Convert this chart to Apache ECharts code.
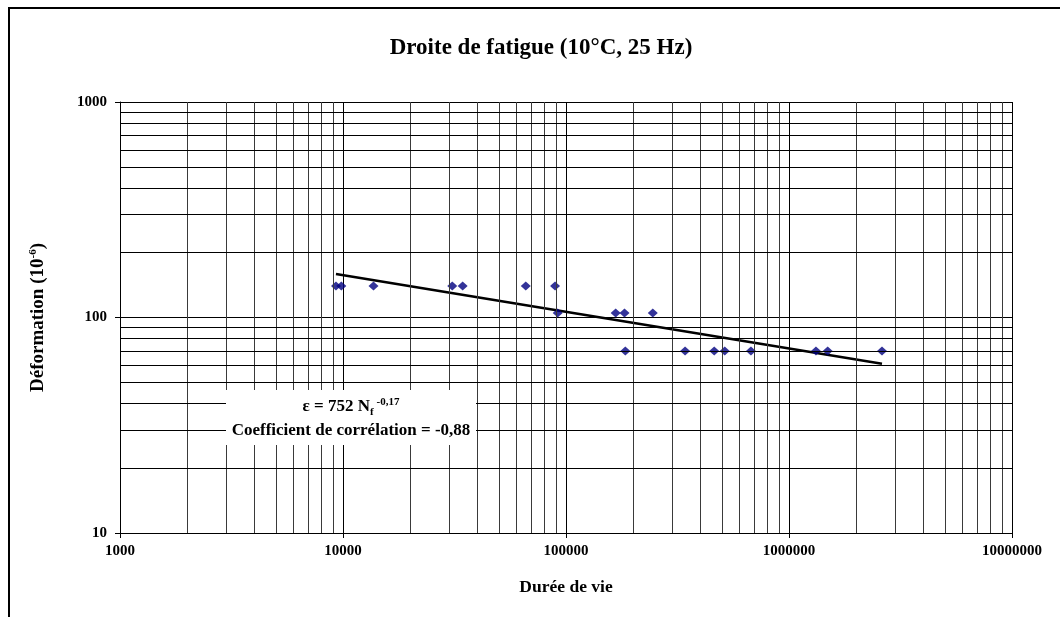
<!DOCTYPE html>
<html>
<head>
<meta charset="utf-8">
<script src="https://cdn.jsdelivr.net/npm/echarts@6/dist/echarts.min.js"></script>
<style>
  html, body { margin: 0; padding: 0; background: #fff; }
  #chart { width: 1060px; height: 617px; }
</style>
</head>
<body>
<div id="chart"></div>
<script>
// Fatigue test results: number of cycles to failure vs. imposed strain level
const lifeCycles = [
  9300, 9830, 13700, 30900, 34400, 66000, 89300,
  91800, 167000, 183000, 245000,
  184500, 342000, 462000, 515000, 675000, 1321000, 1491000, 2612000
];
const strainLevels = [
  140, 140, 140, 140, 140, 140, 140,
  105, 105, 105, 105,
  70, 70, 70, 70, 70, 70, 70, 70
];

// Power-law fit  eps = A * N^b  and its correlation coefficient
const fitA = 752;
const fitB = -0.17;
const fitR = -0.88;

// Axis ranges (decades) and intermediate log grid multipliers
const xDecades = [1000, 10000, 100000, 1000000, 10000000];
const yDecades = [10, 100, 1000];
const logMultipliers = [2, 3, 4, 5, 6, 7, 8, 9];

const points = lifeCycles.map((n, i) => [n, strainLevels[i]]);
const nMin = Math.min(...lifeCycles);
const nMax = Math.max(...lifeCycles);
const fitLine = [nMin, nMax].map(n => [n, fitA * Math.pow(n, fitB)]);

// Minor grid lines at 2..9 x each decade
const minorGrid = [];
xDecades.slice(0, -1).forEach(d => logMultipliers.forEach(m => minorGrid.push({ xAxis: d * m, lineStyle: { color: '#3a3a3a' } })));
yDecades.slice(0, -1).forEach(d => logMultipliers.forEach(m => minorGrid.push({ yAxis: d * m, lineStyle: { color: '#000' } })));

const serif = '"Liberation Serif", "Times New Roman", serif';
const fmtTick = v => String(Math.round(v));
const decimalComma = v => String(v).replace('.', ',');

const chart = echarts.init(document.getElementById('chart'), null, { renderer: 'canvas' });
chart.setOption({
  animation: false,
  backgroundColor: '#fff',
  grid: { left: 120, right: 48, top: 102, bottom: 84, containLabel: false },
  xAxis: {
    type: 'log', logBase: 10,
    min: xDecades[0], max: xDecades[xDecades.length - 1],
    name: 'Durée de vie', nameLocation: 'middle', nameGap: 45,
    nameTextStyle: { fontFamily: serif, fontWeight: 'bold', fontSize: 17.5, color: '#000' },
    axisLine: { show: true, onZero: false, lineStyle: { color: '#000', width: 1 } },
    axisTick: { show: true, length: 5, lineStyle: { color: '#000' } },
    axisLabel: { formatter: fmtTick, fontFamily: serif, fontWeight: 'bold', fontSize: 15, color: '#000', margin: 11, showMinLabel: true, showMaxLabel: true },
    splitLine: { show: true, lineStyle: { color: '#000', width: 1 } }
  },
  yAxis: {
    type: 'log', logBase: 10,
    min: yDecades[0], max: yDecades[yDecades.length - 1],
    name: '{n|Déformation (10}{s|-6}{n|)}', nameLocation: 'middle', nameGap: 72, nameRotate: 90,
    nameTextStyle: {
      rich: {
        n: { fontFamily: serif, fontWeight: 'bold', fontSize: 19, color: '#000' },
        s: { fontFamily: serif, fontWeight: 'bold', fontSize: 11, color: '#000', verticalAlign: 'top', padding: [0, 0, 9, 0] }
      }
    },
    axisLine: { show: true, onZero: false, lineStyle: { color: '#000', width: 1 } },
    axisTick: { show: true, length: 5, lineStyle: { color: '#000' } },
    axisLabel: { formatter: fmtTick, fontFamily: serif, fontWeight: 'bold', fontSize: 15, color: '#000', margin: 13 },
    splitLine: { show: true, lineStyle: { color: '#000', width: 1 } }
  },
  series: [
    {
      type: 'scatter',
      data: [],
      silent: true,
      markLine: {
        silent: true, symbol: 'none', animation: false,
        label: { show: false },
        lineStyle: { type: 'solid', width: 1, color: '#000' },
        emphasis: { disabled: true },
        data: minorGrid
      }
    },
    {
      type: 'line',
      data: fitLine,
      symbol: 'none',
      lineStyle: { color: '#000', width: 2.5 },
      z: 3
    },
    {
      type: 'scatter',
      data: points,
      symbol: 'diamond',
      symbolSize: [10, 9],
      itemStyle: { color: '#000080' },
      z: 4
    }
  ],
  graphic: [
    {
      type: 'rect', z: 200, silent: true,
      shape: { x: 9, y: 8, width: 1200, height: 800 },
      style: { fill: 'none', stroke: '#000', lineWidth: 2 }
    },
    {
      type: 'text', z: 200, silent: true, x: 541, y: 48,
      style: {
        text: 'Droite de fatigue (10°C, 25 Hz)',
        align: 'center', verticalAlign: 'middle',
        textAlign: 'center', textVerticalAlign: 'middle',
        font: 'bold 23px ' + serif, fill: '#000'
      }
    },
    {
      type: 'rect', z: 150, silent: true,
      shape: { x: 226, y: 390, width: 250, height: 55 },
      style: { fill: '#fff', stroke: 'none' }
    },
    {
      type: 'text', z: 160, silent: true, x: 351, y: 407,
      style: {
        text: '{e|ε = ' + fitA + ' N}{sub|f}{sup|' + decimalComma(fitB) + '}',
        align: 'center', verticalAlign: 'middle',
        textAlign: 'center', textVerticalAlign: 'middle',
        rich: {
          e: { fontFamily: serif, fontWeight: 'bold', fontSize: 17, color: '#000' },
          sub: { fontFamily: serif, fontWeight: 'bold', fontSize: 11, color: '#000', verticalAlign: 'bottom', padding: [8, 0, 0, 0] },
          sup: { fontFamily: serif, fontWeight: 'bold', fontSize: 11, color: '#000', verticalAlign: 'top', padding: [0, 0, 10, 3] }
        }
      }
    },
    {
      type: 'text', z: 160, silent: true, x: 351, y: 431,
      style: {
        text: 'Coefficient de corrélation = ' + decimalComma(fitR),
        align: 'center', verticalAlign: 'middle',
        textAlign: 'center', textVerticalAlign: 'middle',
        font: 'bold 17px ' + serif, fill: '#000'
      }
    }
  ]
});
</script>
</body>
</html>
